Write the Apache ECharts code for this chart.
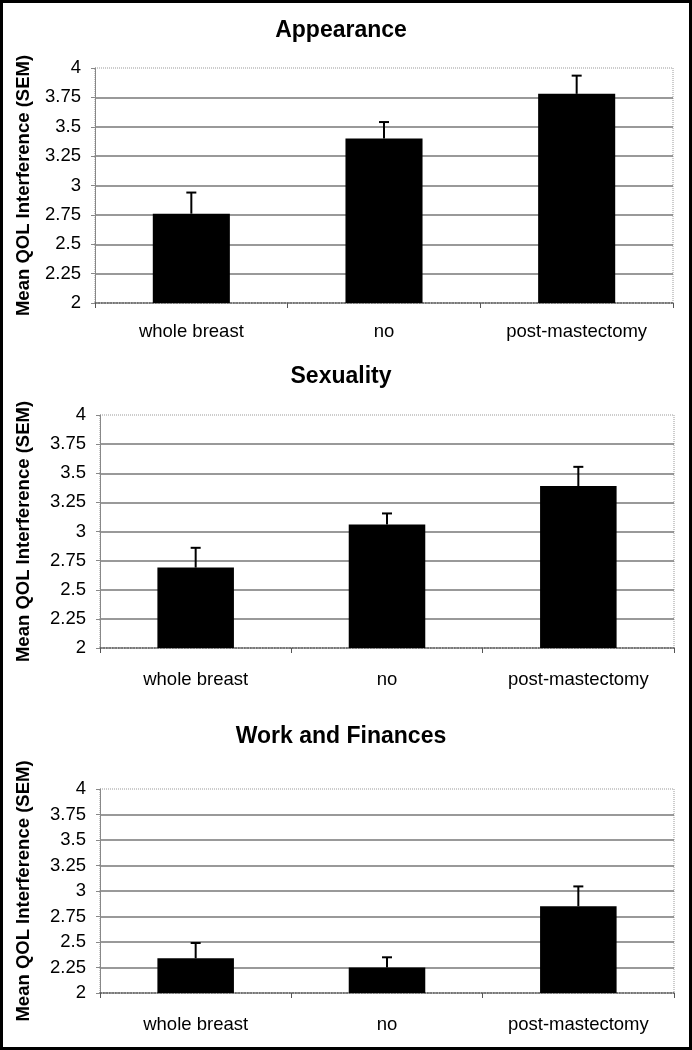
<!DOCTYPE html>
<html><head><meta charset="utf-8">
<script src="https://cdn.jsdelivr.net/npm/echarts@6/dist/echarts.min.js"></script>
<style>
html,body{margin:0;padding:0;background:#fff;}
#chart{position:absolute;left:0;top:0;width:692px;height:1050px;}
#frame{position:absolute;left:0;top:0;width:692px;height:1050px;box-sizing:border-box;border:3px solid #000;pointer-events:none;}
</style></head><body>
<div id="chart"></div><div id="frame"></div>
<script>
const categories = ['whole breast', 'no', 'post-mastectomy'];
const panelTitles = ['Appearance', 'Sexuality', 'Work and Finances'];
const appearanceMeans = [2.76, 3.40, 3.78];
const appearanceSEM = [0.18, 0.14, 0.155];
const sexualityMeans = [2.69, 3.06, 3.39];
const sexualitySEM = [0.17, 0.095, 0.165];
const workMeans = [2.34, 2.25, 2.85];
const workSEM = [0.15, 0.10, 0.195];
const yMin = 2, yMax = 4, yInterval = 0.25;
const yAxisTitle = 'Mean QOL Interference (SEM)';

const panels = [
  {title: panelTitles[0], means: appearanceMeans, sem: appearanceSEM},
  {title: panelTitles[1], means: sexualityMeans, sem: sexualitySEM},
  {title: panelTitles[2], means: workMeans, sem: workSEM}
];
const layout = [
  {grid: {left: 95, right: 19, top: 68, height: 235}, titleTop: 14, nameGap: 62, xMargin: 19},
  {grid: {left: 100, right: 18, top: 415, height: 233}, titleTop: 360, nameGap: 67, xMargin: 22},
  {grid: {left: 100, right: 18, top: 789, height: 204}, titleTop: 720, nameGap: 67, xMargin: 22}
];
const FONT = "'Liberation Sans', Arial, sans-serif";

const option = {
  animation: false,
  backgroundColor: '#fff',
  title: [], grid: [], xAxis: [], yAxis: [], series: []
};
panels.forEach((p, i) => {
  const L = layout[i];
  option.title.push({
    text: p.title, left: 336, top: L.titleTop, textAlign: 'center',
    textStyle: {fontFamily: FONT, fontSize: 23, fontWeight: 'bold', color: '#000'}
  });
  option.grid.push(Object.assign({
    show: true, borderColor: '#999', borderWidth: 1, borderType: 'dotted', backgroundColor: '#fff'
  }, L.grid));
  option.xAxis.push({
    type: 'category', gridIndex: i, data: categories,
    axisLine: {show: true, lineStyle: {color: '#555', width: 1.5, type: 'dotted'}},
    axisTick: {show: true, length: 5, lineStyle: {color: '#555'}},
    axisLabel: {fontFamily: FONT, fontSize: 18.5, color: '#000', margin: L.xMargin},
    splitLine: {show: false}
  });
  option.yAxis.push({
    type: 'value', gridIndex: i, min: yMin, max: yMax, interval: yInterval,
    name: yAxisTitle, nameLocation: 'middle', nameGap: L.nameGap, nameRotate: 90,
    nameTextStyle: {fontFamily: FONT, fontSize: 18.5, fontWeight: 'bold', color: '#000'},
    axisLine: {show: true, lineStyle: {color: '#888', width: 1}},
    axisTick: {show: true, length: 4, lineStyle: {color: '#888'}},
    axisLabel: {fontFamily: FONT, fontSize: 18.5, color: '#000', margin: 14},
    splitLine: {show: true, showMinLine: false, showMaxLine: false, lineStyle: {color: '#777', width: 1.5}}
  });
  option.series.push({
    type: 'bar', xAxisIndex: i, yAxisIndex: i, data: p.means,
    barWidth: '40%', itemStyle: {color: '#000'}, z: 3
  });
  option.series.push({
    type: 'custom', xAxisIndex: i, yAxisIndex: i, z: 4,
    data: p.means.map((m, k) => [k, m, p.sem[k]]),
    encode: {x: 0, y: 1},
    renderItem: (params, api) => {
      const x = api.value(0), m = api.value(1), s = api.value(2);
      const p0 = api.coord([x, m]);
      const p1 = api.coord([x, m + s]);
      return {type: 'group', children: [
        {type: 'line', shape: {x1: p0[0], y1: p0[1], x2: p1[0], y2: p1[1]}, style: {stroke: '#000', lineWidth: 2}},
        {type: 'line', shape: {x1: p1[0] - 5, y1: p1[1], x2: p1[0] + 5, y2: p1[1]}, style: {stroke: '#000', lineWidth: 2}}
      ]};
    }
  });
});
const chart = echarts.init(document.getElementById('chart'), null, {renderer: 'canvas'});
chart.setOption(option);
</script>
</body></html>
